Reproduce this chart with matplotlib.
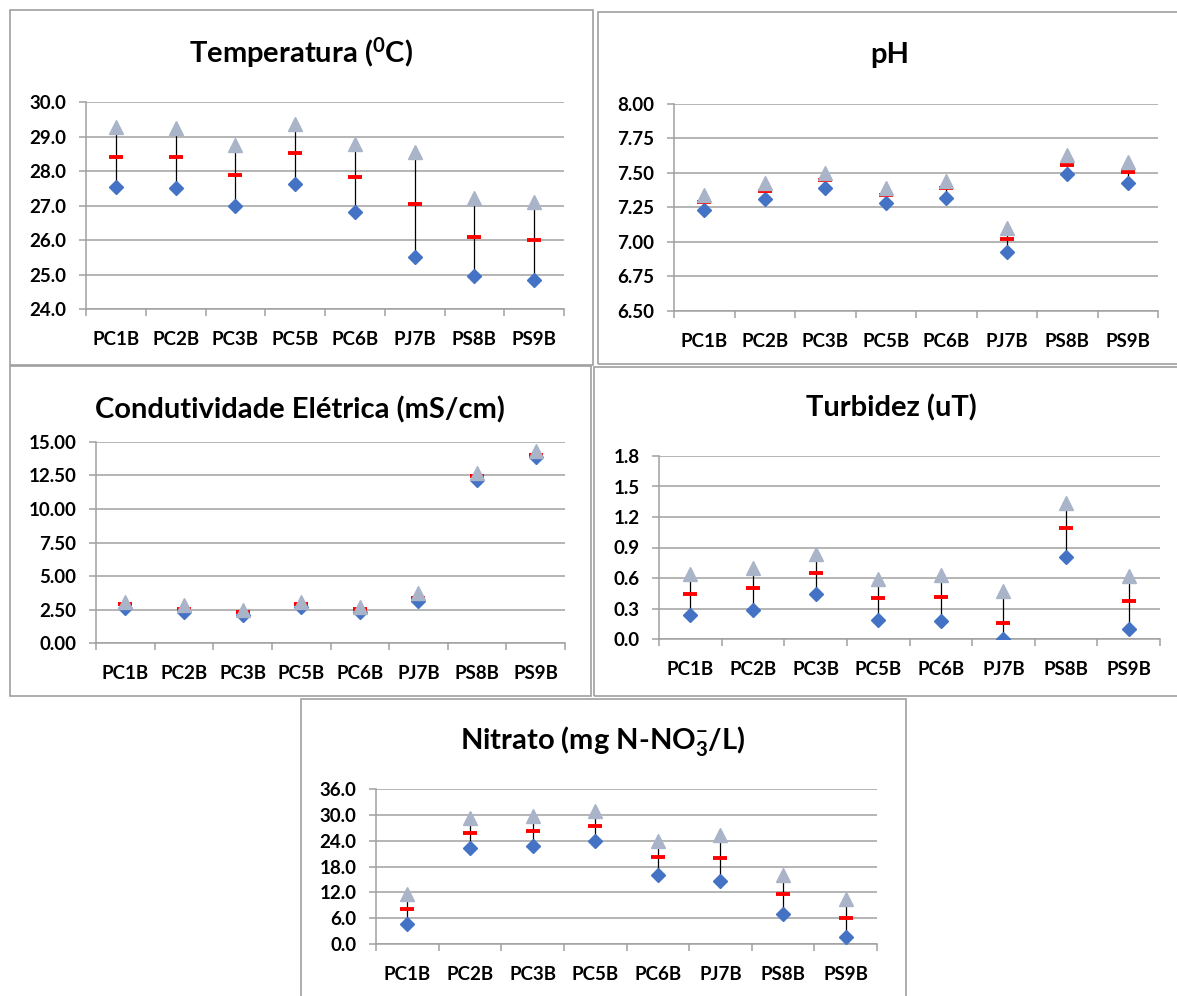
import numpy as np
import matplotlib
matplotlib.use("Agg")
import matplotlib.pyplot as plt
from matplotlib.patches import Rectangle

plt.rcParams['font.family'] = ['Lato', 'DejaVu Sans']
plt.rcParams['font.weight'] = 'bold'
plt.rcParams['mathtext.fontset'] = 'custom'
plt.rcParams['mathtext.rm'] = 'Lato:bold'
plt.rcParams['mathtext.bf'] = 'Lato:bold'
plt.rcParams['mathtext.it'] = 'Lato:bold'

# stations
stations = ["PC1B", "PC2B", "PC3B", "PC5B", "PC6B", "PJ7B", "PS8B", "PS9B"]

# Temperatura (C): minimo, media, maximo
temp_min = [27.55, 27.52, 26.98, 27.63, 26.82, 25.50, 24.97, 24.84]
temp_mean = [28.42, 28.40, 27.89, 28.52, 27.83, 27.05, 26.10, 25.99]
temp_max = [29.27, 29.25, 28.74, 29.37, 28.79, 28.55, 27.22, 27.10]

# pH
ph_min = [7.23, 7.31, 7.39, 7.28, 7.32, 6.93, 7.49, 7.43]
ph_mean = [7.29, 7.37, 7.45, 7.34, 7.39, 7.02, 7.56, 7.51]
ph_max = [7.34, 7.43, 7.50, 7.39, 7.44, 7.10, 7.63, 7.58]

# Condutividade (mS/cm)
cond_min = [2.60, 2.35, 2.10, 2.70, 2.35, 3.10, 12.20, 13.85]
cond_mean = [2.88, 2.56, 2.31, 2.88, 2.51, 3.38, 12.45, 14.05]
cond_max = [3.05, 2.83, 2.45, 3.05, 2.70, 3.70, 12.70, 14.30]

# Turbidez (uT)
turb_min = [0.24, 0.29, 0.44, 0.19, 0.18, 0.00, 0.81, 0.10]
turb_mean = [0.44, 0.50, 0.65, 0.40, 0.41, 0.16, 1.09, 0.37]
turb_max = [0.64, 0.70, 0.84, 0.59, 0.63, 0.47, 1.34, 0.62]

# Nitrato (mg N-NO3/L)
nit_min = [4.7, 22.4, 22.7, 24.0, 16.1, 14.6, 7.0, 1.6]
nit_mean = [8.1, 25.8, 26.3, 27.4, 20.2, 20.0, 11.6, 6.1]
nit_max = [11.5, 29.2, 29.8, 30.9, 23.9, 25.3, 16.0, 10.5]

W, H = 1177, 996
fig = plt.figure(figsize=(W / 100, H / 100), dpi=100)

GRID = '#A0A0A0'


def px_axes(l, t, r, b):
    return fig.add_axes([l / W, 1 - b / H, (r - l) / W, (b - t) / H])


def box(l, t, r, b):
    fig.add_artist(Rectangle((l / W, 1 - b / H), (r - l) / W, (b - t) / H,
                             transform=fig.transFigure, fill=False,
                             edgecolor='#A0A0A0', linewidth=1.2))


def panel(rect, lo, mean, hi, ylim, yticks, fmt, title, title_xy):
    ax = px_axes(*rect)
    x = np.arange(len(stations))
    ax.vlines(x, lo, hi, color='black', linewidth=0.9, zorder=2)
    ax.plot(x, lo, 'D', color='#4472C4', markersize=6.8, zorder=3)
    ax.plot(x, mean, '_', color='#FF0000', markersize=10.5, markeredgewidth=2.8, zorder=4)
    ax.plot(x, hi, '^', color='#A9B4C8', markersize=10, zorder=5)
    ax.set_xlim(-0.5, len(stations) - 0.5)
    ax.set_ylim(*ylim)
    ax.set_yticks(yticks)
    ax.set_yticklabels([fmt.format(v) for v in yticks])
    ax.set_xticks(x)
    ax.set_xticklabels(stations)
    ax.set_xticks(np.arange(len(stations) + 1) - 0.5, minor=True)
    ax.tick_params(axis='x', which='major', length=0, pad=15.5, labelsize=13.5)
    ax.tick_params(axis='x', which='minor', length=5, color=GRID, width=1.1)
    ax.tick_params(axis='y', length=5, color=GRID, width=1.1, pad=9, labelsize=13.5)
    ax.grid(axis='y', color=GRID, linewidth=1.1)
    ax.set_axisbelow(True)
    for s in ['top', 'right']:
        ax.spines[s].set_visible(False)
    for s in ['left', 'bottom']:
        ax.spines[s].set_color(GRID)
        ax.spines[s].set_linewidth(1.1)
    ax.set_facecolor('none')
    fig.text(title_xy[0] / W, 1 - title_xy[1] / H, title, ha='center', va='baseline',
             fontsize=21, fontweight='bold')
    return ax


# panel frames
box(10, 10, 593, 365)
box(598, 12, 1182, 364)
box(10, 366, 591, 696)
box(594, 367, 1182, 696)
box(301, 699, 906, 1002)

panel((86, 102, 564, 309), temp_min, temp_mean, temp_max, (24, 30),
      np.arange(24, 30.1, 1.0), '{:.1f}', r'Temperatura ($^{0}$C)', (301, 63))
panel((674, 104, 1158, 311), ph_min, ph_mean, ph_max, (6.5, 8.0),
      np.arange(6.5, 8.01, 0.25), '{:.2f}', 'pH', (890, 63))
panel((96, 442, 565, 643), cond_min, cond_mean, cond_max, (0, 15),
      np.arange(0, 15.1, 2.5), '{:.2f}', 'Condutividade Elétrica (mS/cm)', (300, 418))
panel((659, 456, 1160, 639), turb_min, turb_mean, turb_max, (0, 1.8),
      np.arange(0, 1.81, 0.3), '{:.1f}', 'Turbidez (uT)', (891, 416))
panel((376, 789, 877, 944), nit_min, nit_mean, nit_max, (0, 36),
      np.arange(0, 36.1, 6.0), '{:.1f}', r'Nitrato (mg N-NO$^{-}_{3}$/L)', (603, 749))

fig.savefig("out.png", dpi=100)
